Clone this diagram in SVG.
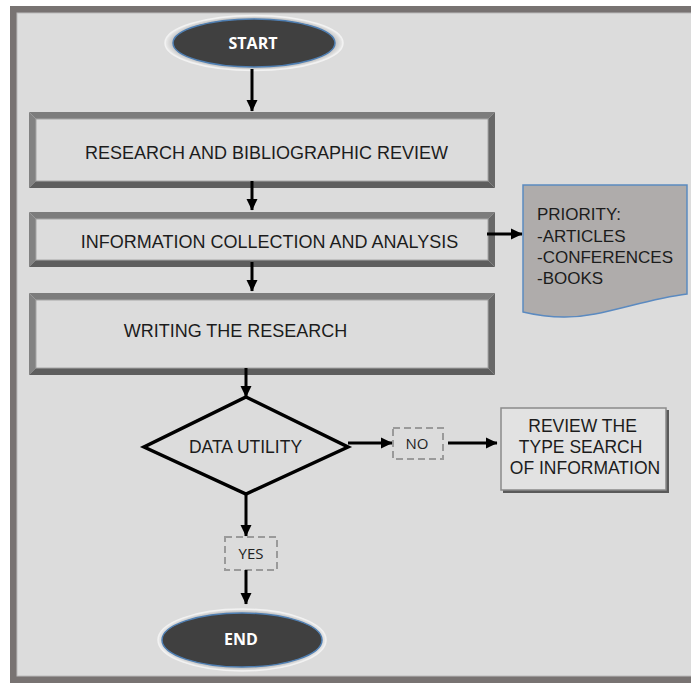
<svg xmlns="http://www.w3.org/2000/svg" width="691" height="683" viewBox="0 0 691 683">
<defs>
<marker id="ah" markerUnits="userSpaceOnUse" markerWidth="12" markerHeight="12" viewBox="0 0 12 12" refX="11" refY="6" orient="auto">
<path d="M0,0.5 L11.5,6 L0,11.5 Z" fill="#000"/>
</marker>
<radialGradient id="halo" cx="50%" cy="50%" r="50%">
<stop offset="85%" stop-color="#a9a9a9"/>
<stop offset="100%" stop-color="#eeeeee"/>
</radialGradient>
</defs>
<style>
.t{font-family:"Liberation Sans",Arial,sans-serif;fill:#1c1c1c}
.c{font-family:"Open Sans","Liberation Sans",sans-serif}
.bt{fill:#7c7c7c}.bl{fill:#828282}.br{fill:#686868}.bb{fill:#5e5e5e}
.bin{fill:#dcdcdc;stroke:#a6a6a6;stroke-width:1}
.dash{fill:none;stroke:#9a9a9a;stroke-width:2;stroke-dasharray:7,4}
.ar{stroke:#000;stroke-width:3;fill:none;marker-end:url(#ah)}
.dark{fill:#404040;stroke:#4f7fb3;stroke-width:1.5}
.halo{fill:url(#halo);stroke:#f2f2f2;stroke-width:1.5}
</style>
<rect x="0" y="0" width="691" height="683" fill="#fff"/>
<rect x="10" y="6" width="690" height="690" fill="#787372"/>
<rect x="17" y="13" width="680" height="663" fill="#dcdcdc" stroke="#bcbcbc" stroke-width="1"/>

<g id="start">
<ellipse class="halo" cx="254" cy="43" rx="89" ry="27.5"/>
<ellipse class="dark" cx="254" cy="43" rx="81" ry="24"/>
<text class="c" x="253" y="49" font-size="16" font-weight="bold" fill="#fff" text-anchor="middle">START</text>
</g>

<g id="research">
<polygon class="bt" points="29,112 495,112 488,119 36,119"/>
<polygon class="bl" points="29,112 36,119 36,181 29,188"/>
<polygon class="br" points="495,112 495,188 488,181 488,119"/>
<polygon class="bb" points="29,188 36,181 488,181 495,188"/>
<rect class="bin" x="36" y="119" width="452" height="62"/>
<text class="t" x="266.5" y="159" font-size="18" text-anchor="middle">RESEARCH AND BIBLIOGRAPHIC REVIEW</text>
</g>

<g id="collection">
<polygon class="bt" points="29,212 495,212 488,219 36,219"/>
<polygon class="bl" points="29,212 36,219 36,260 29,267"/>
<polygon class="br" points="495,212 495,267 488,260 488,219"/>
<polygon class="bb" points="29,267 36,260 488,260 495,267"/>
<rect class="bin" x="36" y="219" width="452" height="41"/>
<text class="t" x="269.5" y="248" font-size="18" text-anchor="middle">INFORMATION COLLECTION AND ANALYSIS</text>
</g>

<g id="writing">
<polygon class="bt" points="29,293 495,293 488,300 36,300"/>
<polygon class="bl" points="29,293 36,300 36,368 29,375"/>
<polygon class="br" points="495,293 495,375 488,368 488,300"/>
<polygon class="bb" points="29,375 36,368 488,368 495,375"/>
<rect class="bin" x="36" y="300" width="452" height="68"/>
<text class="t" x="235.5" y="337" font-size="18" text-anchor="middle">WRITING THE RESEARCH</text>
</g>

<g id="priority">
<path d="M523,185 H687 V294 C655,298 625,308 595,314 C570,319 548,318 523,312 Z" fill="#afacab" stroke="#5b8ac0" stroke-width="1.5"/>
<text class="t" font-size="17">
<tspan x="537" y="220">PRIORITY:</tspan>
<tspan x="537" y="242">-ARTICLES</tspan>
<tspan x="537" y="263">-CONFERENCES</tspan>
<tspan x="537" y="284">-BOOKS</tspan>
</text>
</g>

<g id="utility">
<polygon points="246,397 348,447 246,494 144,447" fill="none" stroke="#000" stroke-width="3.5" stroke-linejoin="miter"/>
<text class="t" x="245.5" y="453" font-size="17.5" text-anchor="middle">DATA UTILITY</text>
</g>

<g id="no">
<rect class="dash" x="393" y="428" width="50" height="31"/>
<text class="c" x="417" y="449" font-size="15" fill="#222" text-anchor="middle">NO</text>
</g>

<g id="review">
<rect x="503" y="410" width="166" height="83" fill="#5a5a5a"/>
<rect x="501" y="408" width="165" height="82" fill="#e2e2e2" stroke="#8a8a8a" stroke-width="1.5"/>
<text class="t" font-size="17.5" text-anchor="middle">
<tspan x="585" y="432">REVIEW THE</tspan>
<tspan x="583" y="453">TYPE SEARCH</tspan>
<tspan x="585" y="474">OF INFORMATION</tspan>
</text>
</g>

<g id="yes">
<rect class="dash" x="225" y="537" width="52" height="33"/>
<text class="c" x="251" y="559" font-size="15" fill="#222" text-anchor="middle">YES</text>
</g>

<g id="end">
<ellipse class="halo" cx="242" cy="640" rx="84" ry="31"/>
<ellipse class="dark" cx="242" cy="640" rx="80" ry="27"/>
<text class="c" x="241" y="645" font-size="16" font-weight="bold" fill="#fff" text-anchor="middle">END</text>
</g>

<g id="connectors">
<line class="ar" x1="252" y1="69" x2="252" y2="111"/>
<line class="ar" x1="252" y1="181" x2="252" y2="210"/>
<line class="ar" x1="252" y1="262" x2="252" y2="291"/>
<line class="ar" x1="487" y1="234" x2="522" y2="234"/>
<line class="ar" x1="246" y1="368" x2="246" y2="397"/>
<line class="ar" x1="348" y1="443" x2="392" y2="443"/>
<line class="ar" x1="448" y1="443" x2="497" y2="443"/>
<line class="ar" x1="246" y1="494" x2="246" y2="536"/>
<line class="ar" x1="246" y1="570" x2="246" y2="604"/>
</g>
</svg>
